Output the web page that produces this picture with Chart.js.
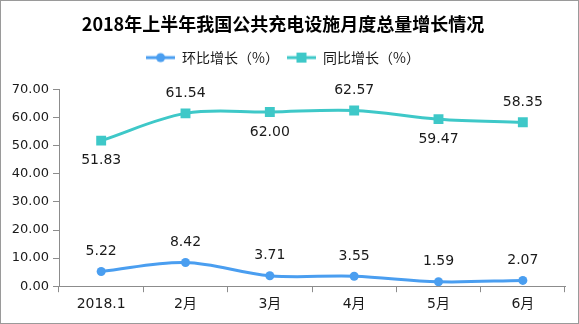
<!DOCTYPE html>
<html>
<head>
<meta charset="utf-8">
<script src="https://cdn.jsdelivr.net/npm/chart.js@4"></script>
<style>
  html, body { margin: 0; padding: 0; background: #fff; }
  #wrap { width: 577px; height: 322px; border: 1px solid #9a9a9a; }
</style>
</head>
<body>
<div id="wrap"><canvas id="chart" width="577" height="322"></canvas></div>
<script>
const categories = ['2018.1', '2月', '3月', '4月', '5月', '6月'];
const momValues = [5.22, 8.42, 3.71, 3.55, 1.59, 2.07];
const yoyValues = [51.83, 61.54, 62.00, 62.57, 59.47, 58.35];
// where the value label sits for each point
const momLabelPos = ['top', 'top', 'top', 'top', 'top', 'top'];
const yoyLabelPos = ['bottom', 'top', 'bottom', 'top', 'bottom', 'top'];

const BLUE = 'rgb(74, 158, 240)';
const TEAL = 'rgb(62, 200, 200)';
const TEXT_FONT = '"DejaVu Sans", "Noto Sans CJK SC", sans-serif';

function legendIcon(color, shape) {
    const c = document.createElement('canvas');
    c.width = 29;
    c.height = 12;
    const ctx = c.getContext('2d');
    ctx.strokeStyle = color;
    ctx.lineWidth = 3;
    ctx.beginPath();
    ctx.moveTo(0, 6);
    ctx.lineTo(29, 6);
    ctx.stroke();
    ctx.fillStyle = color;
    if (shape === 'circle') {
        ctx.beginPath();
        ctx.arc(14.5, 6, 4.5, 0, Math.PI * 2);
        ctx.fill();
    } else {
        ctx.fillRect(9.5, 1, 10, 10);
    }
    return c;
}

const valueLabels = {
    id: 'valueLabels',
    afterDatasetsDraw(chart) {
        const ctx = chart.ctx;
        ctx.save();
        ctx.font = '14px ' + TEXT_FONT;
        ctx.fillStyle = '#1a1a1a';
        ctx.textAlign = 'center';
        ctx.textBaseline = 'middle';
        chart.data.datasets.forEach((ds, i) => {
            const meta = chart.getDatasetMeta(i);
            meta.data.forEach((pt, j) => {
                const dy = ds.labelPos[j] === 'top' ? -20 : 20;
                ctx.fillText(ds.data[j].toFixed(2), pt.x, pt.y + dy);
            });
        });
        ctx.restore();
    },
};

// extra room between legend and plot
const legendGap = {
    id: 'legendGap',
    beforeInit(chart) {
        const fit = chart.legend.fit;
        chart.legend.fit = function () {
            fit.bind(chart.legend)();
            this.height += 15;
        };
    },
};

new Chart(document.getElementById('chart'), {
    type: 'line',
    data: {
        labels: categories,
        datasets: [
            {
                label: '环比增长（%）',
                data: momValues,
                labelPos: momLabelPos,
                borderColor: BLUE,
                backgroundColor: BLUE,
                borderWidth: 3,
                pointStyle: 'circle',
                pointRadius: 4.5,
                pointBorderWidth: 0,
                tension: 0.35,
                legendIcon: legendIcon(BLUE, 'circle'),
            },
            {
                label: '同比增长（%）',
                data: yoyValues,
                labelPos: yoyLabelPos,
                borderColor: TEAL,
                backgroundColor: TEAL,
                borderWidth: 3,
                pointStyle: 'rect',
                pointRadius: 7,
                pointBorderWidth: 0,
                tension: 0.35,
                legendIcon: legendIcon(TEAL, 'rect'),
            },
        ],
    },
    options: {
        responsive: false,
        animation: false,
        layout: {
            padding: { left: 0, right: 13, top: 0, bottom: 6 },
        },
        scales: {
            x: {
                offset: true,
                grid: {
                    offset: true,
                    drawOnChartArea: false,
                    drawTicks: true,
                    tickLength: 6,
                    color: '#8c8c8c',
                },
                border: { display: true, color: '#8c8c8c' },
                ticks: {
                    color: '#1a1a1a',
                    font: { family: TEXT_FONT, size: 14 },
                    padding: 4,
                    maxRotation: 0,
                },
            },
            y: {
                min: 0,
                max: 70,
                afterFit: axis => { axis.width = 58; },
                grid: {
                    drawOnChartArea: false,
                    drawTicks: true,
                    tickLength: 6,
                    color: '#8c8c8c',
                },
                border: { display: true, color: '#8c8c8c' },
                ticks: {
                    stepSize: 10,
                    color: '#1a1a1a',
                    font: { family: TEXT_FONT, size: 13 },
                    padding: 4,
                    callback: value => value.toFixed(2),
                },
            },
        },
        plugins: {
            title: {
                display: true,
                text: '2018年上半年我国公共充电设施月度总量增长情况',
                color: '#000',
                font: { family: '"Noto Sans CJK SC", sans-serif', size: 18, weight: 'bold' },
                padding: { top: 12, bottom: 8 },
            },
            legend: {
                display: true,
                labels: {
                    usePointStyle: true,
                    pointStyleWidth: 29,
                    color: '#1a1a1a',
                    font: { family: '"Noto Sans CJK SC", sans-serif', size: 14 },
                    padding: 8,
                    generateLabels: chart => chart.data.datasets.map((ds, i) => ({
                        text: ds.label,
                        pointStyle: ds.legendIcon,
                        fontColor: '#1a1a1a',
                        datasetIndex: i,
                        hidden: false,
                        lineWidth: 0,
                    })),
                },
            },
            tooltip: { enabled: false },
        },
    },
    plugins: [valueLabels, legendGap],
});
</script>
</body>
</html>
